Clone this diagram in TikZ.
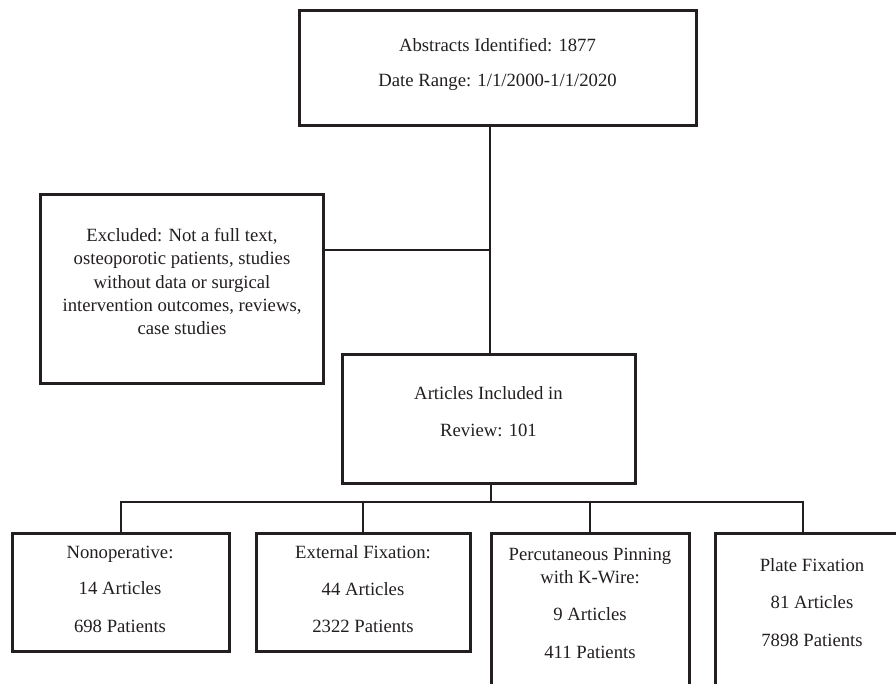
\documentclass[tikz,border=0pt]{standalone}
\usepackage{fontspec}
\setmainfont{Liberation Serif}
\definecolor{ink}{HTML}{231F20}
\begin{document}
\begin{tikzpicture}[x=1pt,y=-1pt,
  box/.style={draw=ink,line width=3pt,rectangle,inner sep=0pt,outer sep=0pt},
  txt/.style={anchor=base,inner sep=0pt,text=ink,font=\fontsize{18.7}{22}\selectfont},
  link/.style={draw=ink,line width=2.8pt}]
\useasboundingbox (0,0) rectangle (896,683);
\clip (0,0) rectangle (896,683);
\fill[white] (0,0) rectangle (896,683);

% connectors
\coordinate (sp) at (490,250);
\coordinate (bl) at (121,502);
\coordinate (br) at (803,502);
\coordinate (bm) at (491,502);

% boxes
\node[box,minimum width=396.5pt,minimum height=115pt] (top) at (497.75,67.5) {};
\node[box,minimum width=283.5pt,minimum height=189pt] (exc) at (181.75,288.5) {};
\node[box,minimum width=293pt,minimum height=129pt] (art) at (488.5,418.5) {};
\node[box,minimum width=217pt,minimum height=118pt] (nonop) at (120.5,592) {};
\node[box,minimum width=214pt,minimum height=118pt] (ext) at (363,592) {};
\node[box,minimum width=198pt,minimum height=177pt] (perc) at (590,621.5) {};
\node[box,minimum width=195pt,minimum height=177pt] (plate) at (812.5,621.5) {};

\draw[link] (top.south -| sp) -- (art.north -| sp);
\draw[link] (exc.east |- sp) -- (sp);
\draw[link] (art.south -| bm) -- (bm);
\draw[link] (nonop.north -| bl) -- (bl) -- (br) -- (plate.north -| br);
\draw[link] (ext.north) -- (ext.north |- bl);
\draw[link] (perc.north) -- (perc.north |- bl);

% texts
\node[txt] (t1) at (497.5,51) {Abstracts Identified: 1877};
\node[txt] (t2) at (497.5,86) {Date Range: 1/1/2000-1/1/2020};

\node[txt] (e1) at (182,241.5) {Excluded: Not a full text,};
\node[txt] (e2) at (182,264.8) {osteoporotic patients, studies};
\node[txt] (e3) at (182,288.2) {without data or surgical};
\node[txt] (e4) at (182,311.5) {intervention outcomes, reviews,};
\node[txt] (e5) at (182,334.8) {case studies};

\node[txt] (a1) at (488.5,399.5) {Articles Included in};
\node[txt] (a2) at (488.5,436.5) {Review: 101};

\node[txt] (n1) at (120,558.2) {Nonoperative:};
\node[txt] (n2) at (120,594.8) {14 Articles};
\node[txt] (n3) at (120,632.5) {698 Patients};

\node[txt] (x1) at (363,558.5) {External Fixation:};
\node[txt] (x2) at (363,595.5) {44 Articles};
\node[txt] (x3) at (363,632.5) {2322 Patients};

\node[txt] (p1) at (590,560.5) {Percutaneous Pinning};
\node[txt] (p2) at (590,583.5) {with K-Wire:};
\node[txt] (p3) at (590,620.5) {9 Articles};
\node[txt] (p4) at (590,658.5) {411 Patients};

\node[txt] (f1) at (812,571.5) {Plate Fixation};
\node[txt] (f2) at (812,608.5) {81 Articles};
\node[txt] (f3) at (812,646.5) {7898 Patients};
\end{tikzpicture}
\end{document}
